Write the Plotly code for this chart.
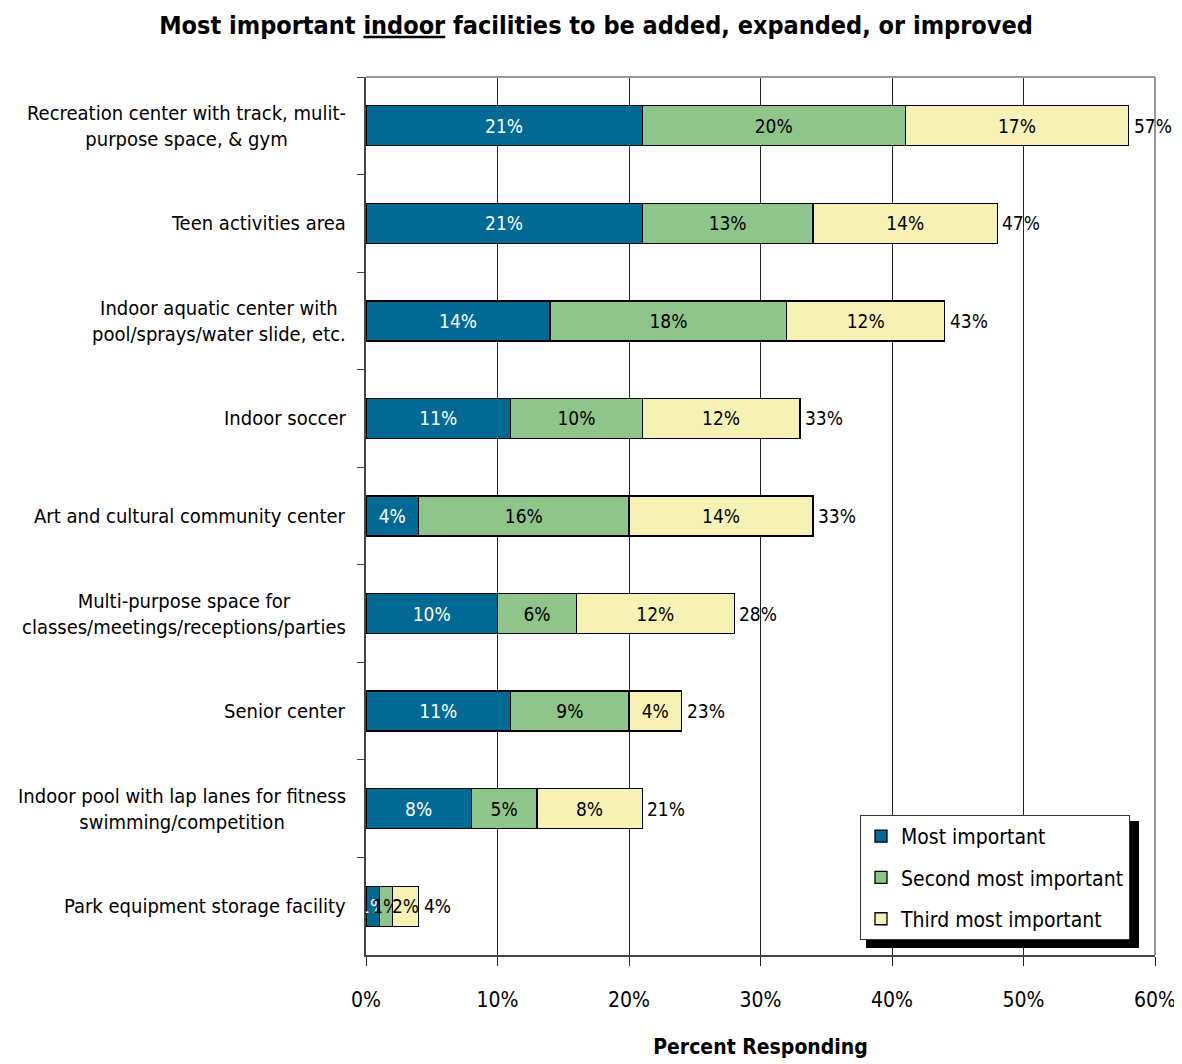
import plotly.graph_objects as go

categories = [
    "Recreation center with track, mulit-<br>purpose space, & gym",
    "Teen activities area",
    "Indoor aquatic center with<br>pool/sprays/water slide, etc.",
    "Indoor soccer",
    "Art and cultural community center",
    "Multi-purpose space for<br>classes/meetings/receptions/parties",
    "Senior center",
    "Indoor pool with lap lanes for fitness<br>swimming/competition",
    "Park equipment storage facility",
]
most_important = [21, 21, 14, 11, 4, 10, 11, 8, 1]
second_most = [20, 13, 18, 10, 16, 6, 9, 5, 1]
third_most = [17, 14, 12, 12, 14, 12, 4, 8, 2]
total_labels = ["57%", "47%", "43%", "33%", "33%", "28%", "23%", "21%", "4%"]
x_ticks = [0, 10, 20, 30, 40, 50, 60]
x_tick_labels = ["0%", "10%", "20%", "30%", "40%", "50%", "60%"]

FONT = "DejaVu Sans Condensed, Liberation Sans Narrow, Arial Narrow, sans-serif"
series = [
    ("Most important", most_important, "#006a94", "white"),
    ("Second most important", second_most, "#8fc48a", "black"),
    ("Third most important", third_most, "#f6f1b4", "black"),
]

W, H = 1174, 1056
L, R, T, B = 358, 27, 69, 109
PW, PH = W - L - R, H - T - B

fig = go.Figure()
for i, (name, vals, color, tcolor) in enumerate(series):
    fig.add_trace(go.Bar(
        name=name, y=categories, x=vals, orientation="h",
        marker=dict(color=color, line=dict(color="black", width=1.3)),
        text=[f"{v}%" for v in vals], textposition="inside",
        insidetextanchor="middle", textangle=0,
        textfont=dict(family=FONT, size=19, color=tcolor),
        legendgroup=f"g{i}",
        hoverinfo="skip",
    ))

totals = [a + b + c for a, b, c in zip(most_important, second_most, third_most)]
annotations = []
for cat, tot, lab in zip(categories, totals, total_labels):
    annotations.append(dict(x=tot, y=cat, xref="x", yref="y", text=lab,
                            showarrow=False, xanchor="left", xshift=3,
                            font=dict(family=FONT, size=19, color="black")))
for cat in categories:
    annotations.append(dict(x=0, y=cat, xref="paper", yref="y", text=cat,
                            showarrow=False, xanchor="right", align="center",
                            xshift=-18,
                            font=dict(family=FONT, size=20, color="black")))

# legend box in screenshot coords: x 860-1133, y 815-942 (figure offset 8px)
lg_x0, lg_y0 = 860 - 8, 815 - 8
sh_x0, sh_x1, sh_y0, sh_y1 = 866 - 8, 1139 - 8, 821 - 8, 948 - 8

fig.update_layout(
    width=W, height=H,
    margin=dict(l=L, r=R, t=T, b=B, autoexpand=False),
    paper_bgcolor="white", plot_bgcolor="white",
    barmode="stack", bargap=0.59,
    uniformtext=dict(minsize=19, mode="show"),
    title=dict(text="<b>Most important <u>indoor</u> facilities to be added, expanded, or improved</b>",
               x=(596 - 8) / W, xanchor="center", y=1 - (25 - 8) / H, yanchor="middle",
               font=dict(family=FONT, size=25, color="black")),
    xaxis=dict(range=[0, 60], tickvals=x_ticks, ticktext=x_tick_labels,
               showgrid=True, gridcolor="#222222", gridwidth=1,
               showline=True, linecolor="#444444", linewidth=1.5,
               ticks="outside", ticklen=9, tickcolor="#222222",
               ticklabelstandoff=16,
               tickfont=dict(family=FONT, size=21, color="black"),
               title=dict(text="<b>Percent Responding</b>", standoff=28,
                          font=dict(family=FONT, size=21, color="black")),
               zeroline=False, fixedrange=True, automargin=False),
    yaxis=dict(autorange="reversed", showticklabels=False,
               ticks="outside", tickson="boundaries", ticklen=7, tickcolor="#444444",
               showline=True, linecolor="#444444", linewidth=1.5,
               showgrid=False, fixedrange=True, automargin=False),
    showlegend=True,
    legend=dict(x=(lg_x0 - L) / PW, y=1 - (lg_y0 - T) / PH, xanchor="left", yanchor="top",
                bgcolor="white", bordercolor="#333333", borderwidth=1,
                font=dict(family=FONT, size=21, color="black"),
                tracegroupgap=11, traceorder="grouped", itemwidth=30),
    annotations=annotations,
    shapes=[
        dict(type="line", xref="paper", yref="paper", x0=0, x1=1, y0=1, y1=1,
             line=dict(color="#999999", width=2)),
        dict(type="line", xref="paper", yref="paper", x0=1, x1=1, y0=0, y1=1,
             line=dict(color="#999999", width=2)),
        dict(type="rect", xref="paper", yref="paper",
             x0=(sh_x0 - L) / PW, x1=(sh_x1 - L) / PW,
             y0=1 - (sh_y1 - T) / PH, y1=1 - (sh_y0 - T) / PH,
             fillcolor="black", line=dict(width=0), layer="above"),
    ],
)

fig.write_html("out.html")
